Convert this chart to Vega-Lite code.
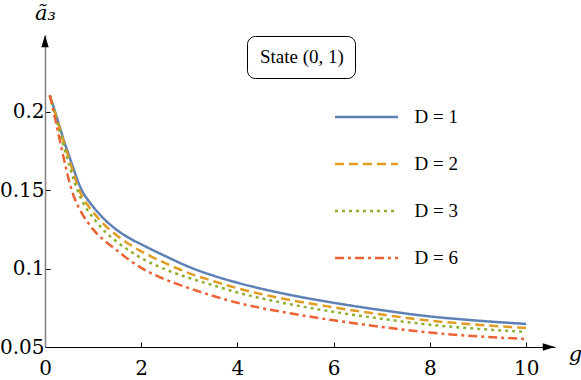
{
  "$schema": "https://vega.github.io/schema/vega-lite/v6.json",
  "width": 510,
  "height": 312,
  "autosize": {"type": "none"},
  "padding": {"left": 45, "top": 35, "right": 26, "bottom": 33},
  "background": "white",
  "config": {
    "view": {"stroke": null},
    "axis": {"grid": false, "labelFont": "DejaVu Serif", "titleFont": "DejaVu Serif", "labelColor": "black", "titleColor": "black"}
  },
  "datasets": {
    "curves": [
      {"g": 0.1, "a": 0.2105, "D": "D = 1"}, {"g": 0.2, "a": 0.201, "D": "D = 1"}, {"g": 0.3, "a": 0.191, "D": "D = 1"}, {"g": 0.4, "a": 0.181, "D": "D = 1"}, {"g": 0.5, "a": 0.172, "D": "D = 1"}, {"g": 0.6, "a": 0.163, "D": "D = 1"}, {"g": 0.7, "a": 0.1545, "D": "D = 1"}, {"g": 0.8, "a": 0.148, "D": "D = 1"}, {"g": 0.9, "a": 0.1435, "D": "D = 1"}, {"g": 1.0, "a": 0.1395, "D": "D = 1"}, {"g": 1.25, "a": 0.131, "D": "D = 1"}, {"g": 1.5, "a": 0.1245, "D": "D = 1"}, {"g": 1.75, "a": 0.1195, "D": "D = 1"}, {"g": 2, "a": 0.1155, "D": "D = 1"}, {"g": 2.5, "a": 0.108, "D": "D = 1"}, {"g": 3, "a": 0.101, "D": "D = 1"}, {"g": 3.5, "a": 0.0955, "D": "D = 1"}, {"g": 4, "a": 0.091, "D": "D = 1"}, {"g": 5, "a": 0.0838, "D": "D = 1"}, {"g": 6, "a": 0.0782, "D": "D = 1"}, {"g": 7, "a": 0.0735, "D": "D = 1"}, {"g": 8, "a": 0.0695, "D": "D = 1"}, {"g": 9, "a": 0.0668, "D": "D = 1"}, {"g": 10, "a": 0.0647, "D": "D = 1"},
      {"g": 0.1, "a": 0.2105, "D": "D = 2"}, {"g": 0.2, "a": 0.2, "D": "D = 2"}, {"g": 0.3, "a": 0.19, "D": "D = 2"}, {"g": 0.4, "a": 0.1795, "D": "D = 2"}, {"g": 0.5, "a": 0.17, "D": "D = 2"}, {"g": 0.6, "a": 0.16, "D": "D = 2"}, {"g": 0.7, "a": 0.151, "D": "D = 2"}, {"g": 0.8, "a": 0.1445, "D": "D = 2"}, {"g": 0.9, "a": 0.14, "D": "D = 2"}, {"g": 1.0, "a": 0.136, "D": "D = 2"}, {"g": 1.25, "a": 0.1275, "D": "D = 2"}, {"g": 1.5, "a": 0.121, "D": "D = 2"}, {"g": 1.75, "a": 0.1155, "D": "D = 2"}, {"g": 2, "a": 0.111, "D": "D = 2"}, {"g": 2.5, "a": 0.1035, "D": "D = 2"}, {"g": 3, "a": 0.097, "D": "D = 2"}, {"g": 3.5, "a": 0.092, "D": "D = 2"}, {"g": 4, "a": 0.0875, "D": "D = 2"}, {"g": 5, "a": 0.0805, "D": "D = 2"}, {"g": 6, "a": 0.0753, "D": "D = 2"}, {"g": 7, "a": 0.0707, "D": "D = 2"}, {"g": 8, "a": 0.0668, "D": "D = 2"}, {"g": 9, "a": 0.0642, "D": "D = 2"}, {"g": 10, "a": 0.0621, "D": "D = 2"},
      {"g": 0.1, "a": 0.2105, "D": "D = 3"}, {"g": 0.2, "a": 0.1995, "D": "D = 3"}, {"g": 0.3, "a": 0.188, "D": "D = 3"}, {"g": 0.4, "a": 0.177, "D": "D = 3"}, {"g": 0.5, "a": 0.1665, "D": "D = 3"}, {"g": 0.6, "a": 0.1565, "D": "D = 3"}, {"g": 0.7, "a": 0.148, "D": "D = 3"}, {"g": 0.8, "a": 0.1415, "D": "D = 3"}, {"g": 0.9, "a": 0.1365, "D": "D = 3"}, {"g": 1.0, "a": 0.1325, "D": "D = 3"}, {"g": 1.25, "a": 0.1235, "D": "D = 3"}, {"g": 1.5, "a": 0.117, "D": "D = 3"}, {"g": 1.75, "a": 0.1115, "D": "D = 3"}, {"g": 2, "a": 0.1068, "D": "D = 3"}, {"g": 2.5, "a": 0.0995, "D": "D = 3"}, {"g": 3, "a": 0.094, "D": "D = 3"}, {"g": 3.5, "a": 0.0893, "D": "D = 3"}, {"g": 4, "a": 0.0848, "D": "D = 3"}, {"g": 5, "a": 0.0778, "D": "D = 3"}, {"g": 6, "a": 0.0724, "D": "D = 3"}, {"g": 7, "a": 0.068, "D": "D = 3"}, {"g": 8, "a": 0.0642, "D": "D = 3"}, {"g": 9, "a": 0.0616, "D": "D = 3"}, {"g": 10, "a": 0.0596, "D": "D = 3"},
      {"g": 0.1, "a": 0.2105, "D": "D = 6"}, {"g": 0.2, "a": 0.197, "D": "D = 6"}, {"g": 0.3, "a": 0.183, "D": "D = 6"}, {"g": 0.4, "a": 0.169, "D": "D = 6"}, {"g": 0.5, "a": 0.156, "D": "D = 6"}, {"g": 0.6, "a": 0.146, "D": "D = 6"}, {"g": 0.7, "a": 0.139, "D": "D = 6"}, {"g": 0.8, "a": 0.1335, "D": "D = 6"}, {"g": 0.9, "a": 0.129, "D": "D = 6"}, {"g": 1.0, "a": 0.125, "D": "D = 6"}, {"g": 1.25, "a": 0.1175, "D": "D = 6"}, {"g": 1.5, "a": 0.1115, "D": "D = 6"}, {"g": 1.75, "a": 0.1055, "D": "D = 6"}, {"g": 2, "a": 0.1005, "D": "D = 6"}, {"g": 2.5, "a": 0.093, "D": "D = 6"}, {"g": 3, "a": 0.0875, "D": "D = 6"}, {"g": 3.5, "a": 0.0825, "D": "D = 6"}, {"g": 4, "a": 0.0782, "D": "D = 6"}, {"g": 5, "a": 0.072, "D": "D = 6"}, {"g": 6, "a": 0.067, "D": "D = 6"}, {"g": 7, "a": 0.0628, "D": "D = 6"}, {"g": 8, "a": 0.0592, "D": "D = 6"}, {"g": 9, "a": 0.0568, "D": "D = 6"}, {"g": 10, "a": 0.0551, "D": "D = 6"}
    ]
  },
  "layer": [
    {
      "data": {"name": "curves"},
      "mark": {"type": "line", "strokeWidth": 2.5, "interpolate": "monotone"},
      "encoding": {
        "x": {
          "field": "g", "type": "quantitative",
          "scale": {"domain": [0, 10.6], "nice": false, "zero": false},
          "axis": {
            "values": [0, 2, 4, 6, 8, 10], "format": "d",
            "domainColor": "black", "domainWidth": 1.2,
            "tickColor": "black", "tickSize": -5, "tickWidth": 1,
            "labelFontSize": 20, "labelPadding": 16, "labelFlush": false, "labelOverlap": false,
            "title": "g", "titleFontStyle": "italic", "titleFontWeight": "normal", "titleFontSize": 21,
            "titleX": 530, "titleY": 13, "titleAlign": "center", "titleBaseline": "alphabetic"
          }
        },
        "y": {
          "field": "a", "type": "quantitative",
          "scale": {"domain": [0.05, 0.249], "nice": false, "zero": false},
          "axis": {
            "values": [0.05, 0.1, 0.15, 0.2], "format": ".2~f",
            "domainColor": "#808080", "domainWidth": 1.5,
            "tickColor": "black", "tickSize": -5, "tickWidth": 1,
            "labelFontSize": 20, "labelPadding": 6, "labelFlush": false, "labelOverlap": false,
            "title": "ã₃", "titleFontStyle": "italic", "titleFontWeight": "normal", "titleFontSize": 21,
            "titleAngle": 0, "titleX": 0, "titleY": -22, "titleAlign": "center", "titleBaseline": "middle"
          }
        },
        "color": {
          "field": "D", "type": "nominal",
          "scale": {"domain": ["D = 1", "D = 2", "D = 3", "D = 6"], "range": ["#5E81B5", "#E19C24", "#8FB032", "#EB6235"]},
          "legend": {
            "orient": "none", "legendX": 288.5, "legendY": 72, "title": null, "padding": 0,
            "symbolType": "stroke", "symbolSize": 3969, "symbolStrokeWidth": 2.5,
            "clipHeight": 20, "rowPadding": 27, "labelOffset": 15,
            "labelFont": "serif", "labelFontSize": 19, "labelColor": "black"
          }
        },
        "strokeDash": {
          "field": "D", "type": "nominal",
          "scale": {"domain": ["D = 1", "D = 2", "D = 3", "D = 6"], "range": [[1, 0], [9, 5], [3, 4], [9, 4, 3, 4]]},
          "legend": {
            "orient": "none", "legendX": 288.5, "legendY": 72, "title": null, "padding": 0,
            "symbolType": "stroke", "symbolSize": 3969, "symbolStrokeWidth": 2.5,
            "clipHeight": 20, "rowPadding": 27, "labelOffset": 15,
            "labelFont": "serif", "labelFontSize": 19, "labelColor": "black"
          }
        }
      }
    },
    {
      "data": {"name": "curves"},
      "mark": {"type": "point", "opacity": 0},
      "encoding": {
        "x": {"field": "g", "type": "quantitative"},
        "y": {"field": "a", "type": "quantitative"},
        "shape": {
          "datum": "State (0, 1)",
          "legend": {
            "orient": "none", "legendX": 202, "legendY": 1, "title": null, "padding": 11,
            "strokeColor": "black", "cornerRadius": 8, "fillColor": "white",
            "symbolSize": 0, "symbolOpacity": 0, "symbolStrokeWidth": 0, "labelOffset": -17,
            "labelFont": "Times New Roman", "labelFontSize": 19, "labelColor": "black"
          }
        }
      }
    },
    {
      "data": {"values": [{"g": 10.6, "a": 0.05}]},
      "mark": {"type": "point", "shape": "M0,0L-1,-0.3L-1,0.3Z", "size": 600, "filled": true, "color": "black", "opacity": 1},
      "encoding": {
        "x": {"field": "g", "type": "quantitative"},
        "y": {"field": "a", "type": "quantitative"}
      }
    },
    {
      "data": {"values": [{"g": 0, "a": 0.249}]},
      "mark": {"type": "point", "shape": "M0,0L-0.3,1L0.3,1Z", "size": 600, "filled": true, "color": "black", "opacity": 1},
      "encoding": {
        "x": {"field": "g", "type": "quantitative"},
        "y": {"field": "a", "type": "quantitative"}
      }
    }
  ]
}
